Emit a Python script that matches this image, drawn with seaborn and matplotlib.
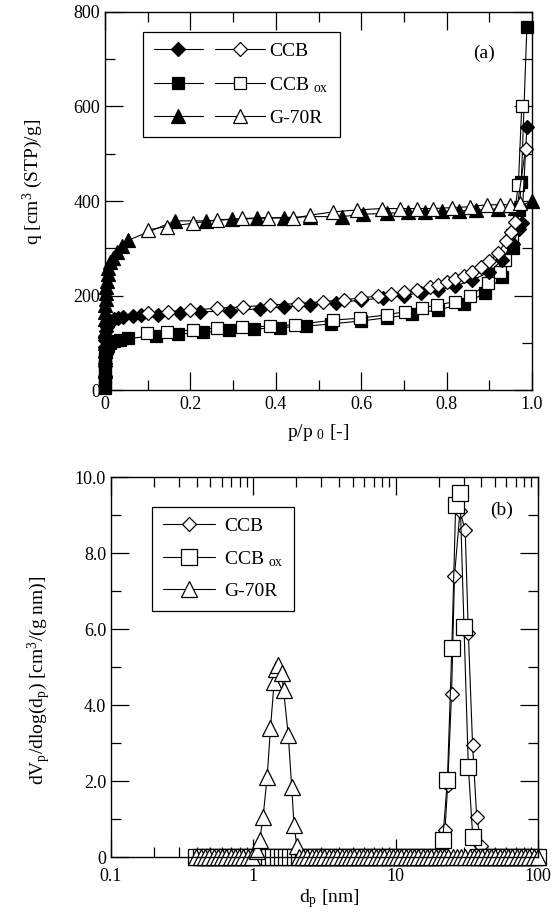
import matplotlib
matplotlib.use("Agg")
import matplotlib.pyplot as plt
import seaborn as sns
import pandas as pd
from matplotlib.lines import Line2D
from matplotlib.legend_handler import HandlerTuple
from matplotlib.ticker import MultipleLocator, FuncFormatter, LogLocator, NullFormatter

# ---------------- (a) isotherms: adsorption (filled) / desorption (open) ----------------
CCB_ADS_P = [0.00002, 0.00005, 0.0001, 0.0003, 0.0006, 0.001, 0.002, 0.004, 0.007, 0.012,
             0.02, 0.03, 0.043, 0.066, 0.085, 0.125, 0.176, 0.222, 0.293, 0.363, 0.42, 0.48,
             0.54, 0.6, 0.65, 0.7, 0.74, 0.78, 0.82, 0.86, 0.9, 0.93, 0.955, 0.97, 0.976, 0.988]
CCB_ADS_Q = [30, 50, 70, 90, 105, 115, 125, 133, 140, 145, 150, 152, 155, 156, 158, 159, 162,
             165, 168, 172, 176, 180, 185, 190, 195, 200, 206, 212, 220, 232, 250, 275, 310,
             340, 353, 557]
CCB_DES_P = [0.101, 0.148, 0.2, 0.262, 0.324, 0.386, 0.453, 0.51, 0.56, 0.6, 0.64, 0.67, 0.7,
             0.73, 0.76, 0.78, 0.8, 0.82, 0.84, 0.86, 0.88, 0.9, 0.92, 0.94, 0.95, 0.96, 0.985]
CCB_DES_Q = [162, 166, 169, 173, 176, 180, 183, 187, 191, 195, 199, 203, 207, 212, 217, 222,
             228, 235, 242, 250, 260, 272, 290, 315, 335, 355, 510]

CCBOX_ADS_P = [0.00001, 0.00003, 0.00006, 0.0001, 0.0003, 0.0006, 0.001, 0.002, 0.004, 0.007,
               0.012, 0.02, 0.035, 0.055, 0.12, 0.17, 0.23, 0.29, 0.35, 0.41, 0.47, 0.53, 0.6,
               0.66, 0.72, 0.78, 0.84, 0.89, 0.93, 0.955, 0.97, 0.975, 0.988]
CCBOX_ADS_Q = [5, 15, 28, 40, 55, 65, 72, 80, 88, 94, 99, 103, 106, 109, 115, 118, 122, 126,
               129, 132, 135, 140, 146, 153, 160, 170, 182, 205, 240, 300, 380, 441, 769]
CCBOX_DES_P = [0.098, 0.146, 0.207, 0.262, 0.322, 0.386, 0.445, 0.535, 0.597, 0.66, 0.703,
               0.742, 0.777, 0.82, 0.855, 0.898, 0.925, 0.937, 0.952, 0.968, 0.976]
CCBOX_DES_Q = [120, 123, 127, 131, 133, 135, 138, 148, 152, 159, 166, 173, 180, 187, 199, 226,
               250, 275, 328, 434, 600]

G70R_ADS_P = [0.00002, 0.00005, 0.0001, 0.0002, 0.0004, 0.0007, 0.001, 0.0015, 0.002, 0.003,
              0.004, 0.006, 0.008, 0.012, 0.018, 0.027, 0.04, 0.055, 0.164, 0.237, 0.297,
              0.355, 0.42, 0.48, 0.555, 0.605, 0.66, 0.71, 0.75, 0.79, 0.83, 0.87, 0.92, 0.96,
              0.999]
G70R_ADS_Q = [40, 70, 100, 125, 150, 165, 180, 193, 205, 218, 230, 245, 258, 270, 280, 293, 305,
              317, 358, 358, 361, 363, 365, 367, 367, 372, 374, 376, 377, 378, 379, 381, 383,
              386, 399]
G70R_DES_P = [0.101, 0.146, 0.207, 0.263, 0.322, 0.382, 0.441, 0.48, 0.535, 0.589, 0.648,
              0.691, 0.73, 0.769, 0.812, 0.855, 0.894, 0.925, 0.949, 0.972]
G70R_DES_Q = [339, 346, 353, 360, 363, 365, 363, 370, 377, 381, 384, 384, 384, 384, 386, 388,
              392, 392, 392, 395]

# ---------------- (b) pore size distributions ----------------
D_GRID = [0.398, 0.427, 0.457, 0.490, 0.525, 0.562, 0.603, 0.646, 0.692, 0.741, 0.794, 0.851,
          0.912, 0.977, 1.047, 1.122, 1.202, 1.288, 1.380, 1.479, 1.585, 1.698, 1.820, 1.950,
          2.089, 2.239, 2.399, 2.570, 2.754, 2.951, 3.162, 3.388, 3.631, 3.890, 4.169, 4.467,
          4.786, 5.129, 5.495, 5.888, 6.310, 6.761, 7.244, 7.762, 8.318, 8.913, 9.550, 10.23,
          10.96, 11.75, 12.59, 13.49, 14.45, 15.49, 16.60, 17.78, 19.05, 20.42, 21.88, 23.44,
          25.12, 26.92, 28.84, 30.90, 33.11, 35.48, 38.02, 40.74, 43.65, 46.77, 50.12, 53.70,
          57.54, 61.66, 66.07, 70.79, 75.86, 81.28, 87.10, 93.33, 100.0]

CCB_PEAK_D = [21.0, 22.2, 23.2, 24.7, 25.9, 28.3, 30.8, 32.4, 34.7, 37.1, 40.0]
CCB_PEAK_V = [0.1, 0.7, 1.9, 4.3, 7.4, 9.1, 8.6, 5.9, 2.95, 1.06, 0.3]
CCBOX_PEAK_D = [21.4, 23.1, 24.8, 26.4, 28.3, 30.2, 32.4, 34.8]
CCBOX_PEAK_V = [0.45, 2.03, 5.49, 9.26, 9.57, 6.06, 2.38, 0.53]
G70R_PEAK_D = [1.06, 1.11, 1.17, 1.25, 1.32, 1.40, 1.45, 1.50, 1.58, 1.63, 1.76, 1.86, 1.93, 2.02]
G70R_PEAK_V = [0.15, 0.45, 1.05, 2.1, 3.4, 4.6, 4.95, 5.05, 4.85, 4.4, 3.2, 1.85, 0.85, 0.3]

LABELS = ["CCB", r"CCB $_{\rm ox}$", "G-70R"]


def psd_frame(peak_d, peak_v):
    lo, hi = min(peak_d), max(peak_d)
    d = [g for g in D_GRID if g < lo * 0.97 or g > hi * 1.03]
    v = [0.0] * len(d)
    df = pd.DataFrame({"d": d + peak_d, "v": v + peak_v})
    return df.sort_values("d")


sns.set_theme(style="ticks")
plt.rcParams.update({
    "font.family": ["Liberation Serif", "DejaVu Serif"],
    "mathtext.fontset": "custom",
    "mathtext.rm": "Liberation Serif",
    "mathtext.it": "Liberation Serif:italic",
    "mathtext.bf": "Liberation Serif:bold",
    "axes.edgecolor": "black",
    "axes.linewidth": 1.0,
    "xtick.direction": "in",
    "ytick.direction": "in",
    "xtick.top": True,
    "ytick.right": True,
    "xtick.major.size": 13,
    "ytick.major.size": 13,
    "xtick.minor.size": 7,
    "ytick.minor.size": 7,
    "xtick.major.width": 0.9,
    "ytick.major.width": 0.9,
    "xtick.minor.width": 0.9,
    "ytick.minor.width": 0.9,
    "xtick.color": "black",
    "ytick.color": "black",
    "xtick.labelsize": 13,
    "ytick.labelsize": 13,
    "text.color": "black",
    "axes.labelcolor": "black",
})

fig = plt.figure(figsize=(5.57, 9.22), dpi=100)
ax1 = fig.add_axes([105 / 557, 1 - 390 / 922, 427 / 557, 378 / 922])
ax2 = fig.add_axes([111 / 557, 1 - 857 / 922, 427 / 557, 380 / 922])

LW = 0.8
MS_TOP = {"D": 7.0, "s": 8.8, "^": 10.5}


def draw(ax, x, y, marker, ms, filled):
    sns.lineplot(x=x, y=y, ax=ax, color="black", lw=LW, marker=marker, markersize=ms,
                 markerfacecolor="black" if filled else "white", markeredgecolor="black",
                 markeredgewidth=0.9, sort=True, estimator=None, clip_on=False)


# ---- panel (a)
draw(ax1, CCBOX_ADS_P, CCBOX_ADS_Q, "s", MS_TOP["s"], True)
draw(ax1, CCBOX_DES_P, CCBOX_DES_Q, "s", MS_TOP["s"], False)
draw(ax1, CCB_ADS_P, CCB_ADS_Q, "D", MS_TOP["D"], True)
draw(ax1, CCB_DES_P, CCB_DES_Q, "D", MS_TOP["D"], False)
draw(ax1, G70R_ADS_P, G70R_ADS_Q, "^", MS_TOP["^"], True)
draw(ax1, G70R_DES_P, G70R_DES_Q, "^", MS_TOP["^"], False)

ax1.set_xlim(0, 1.0)
ax1.set_ylim(0, 800)
ax1.xaxis.set_major_locator(MultipleLocator(0.2))
ax1.xaxis.set_minor_locator(MultipleLocator(0.1))
ax1.yaxis.set_major_locator(MultipleLocator(200))
ax1.yaxis.set_minor_locator(MultipleLocator(100))
ax1.xaxis.set_major_formatter(FuncFormatter(lambda v, p: "0" if abs(v) < 1e-9 else f"{v:.1f}"))
ax1.yaxis.set_major_formatter(FuncFormatter(lambda v, p: f"{v:.0f}"))
ax1.tick_params(axis="x", which="major", pad=4)
ax1.set_xlabel(r"p/p $_{\rm 0}$ [-]", fontsize=14)
ax1.set_ylabel(r"q [cm$^{3}$ (STP)/g]", fontsize=14)
ax1.xaxis.set_label_coords(0.5, -0.085)
ax1.yaxis.set_label_coords(-0.14, 0.55)
ax1.text(0.888, 713, "(a)", ha="center", va="center", fontsize=14)


def pair(marker, ms):
    a = Line2D([], [], color="black", lw=LW, marker=marker, markersize=ms,
               markerfacecolor="black", markeredgecolor="black", markeredgewidth=0.9)
    b = Line2D([], [], color="black", lw=LW, marker=marker, markersize=ms,
               markerfacecolor="white", markeredgecolor="black", markeredgewidth=0.9)
    return (a, b)


leg1 = ax1.legend([pair("D", MS_TOP["D"]), pair("s", MS_TOP["s"]), pair("^", MS_TOP["^"])],
                  LABELS, handler_map={tuple: HandlerTuple(ndivide=None, pad=0.6)},
                  loc="upper left", bbox_to_anchor=(143 / 557, 1 - 32 / 922),
                  bbox_transform=fig.transFigure, frameon=True, fancybox=False,
                  edgecolor="black", framealpha=1, fontsize=14, handlelength=5.7,
                  handletextpad=0.25, borderpad=0.55, labelspacing=0.75, borderaxespad=0)
leg1.get_frame().set_linewidth(0.9)

# ---- panel (b)
MS_B = {"D": 7.0, "s": 11.0, "^": 11.0}
df_ccb = psd_frame(CCB_PEAK_D, CCB_PEAK_V)
df_ox = psd_frame(CCBOX_PEAK_D, CCBOX_PEAK_V)
df_g = psd_frame(G70R_PEAK_D, G70R_PEAK_V)
draw(ax2, df_ccb["d"], df_ccb["v"], "D", MS_B["D"], False)
draw(ax2, df_ox["d"], df_ox["v"], "s", MS_B["s"], False)
draw(ax2, df_g["d"], df_g["v"], "^", MS_B["^"], False)

ax2.set_xscale("log")
ax2.set_xlim(0.1, 100)
ax2.set_ylim(0, 10)
ax2.yaxis.set_major_locator(MultipleLocator(2))
ax2.yaxis.set_minor_locator(MultipleLocator(1))
ax2.yaxis.set_major_formatter(FuncFormatter(lambda v, p: "0" if abs(v) < 1e-9 else f"{v:.1f}"))
ax2.xaxis.set_major_locator(LogLocator(base=10, numticks=10))
ax2.xaxis.set_minor_locator(LogLocator(base=10, subs=(2, 3, 4, 5, 6, 7, 8, 9), numticks=20))
ax2.xaxis.set_minor_formatter(NullFormatter())
ax2.xaxis.set_major_formatter(FuncFormatter(lambda v, p: f"{v:g}"))
ax2.tick_params(axis="x", which="major", pad=8)
ax2.set_xlabel(r"d$_{\rm p}$ [nm]", fontsize=14)
ax2.set_ylabel(r"dV$_{\rm p}$/dlog(d$_{\rm p}$) [cm$^{3}$/(g nm)]", fontsize=14)
ax2.xaxis.set_label_coords(0.51, -0.08)
ax2.yaxis.set_label_coords(-0.135, 0.465)
ax2.text(55.7, 9.13, "(b)", ha="center", va="center", fontsize=14)


def single(marker, ms):
    return Line2D([], [], color="black", lw=LW, marker=marker, markersize=ms,
                  markerfacecolor="white", markeredgecolor="black", markeredgewidth=0.9)


leg2 = ax2.legend([single("D", MS_B["D"]), single("s", MS_B["s"]), single("^", MS_B["^"])],
                  LABELS, loc="upper left", bbox_to_anchor=(152 / 557, 1 - 507 / 922),
                  bbox_transform=fig.transFigure, frameon=True, fancybox=False,
                  edgecolor="black", framealpha=1, fontsize=14, handlelength=2.7,
                  handletextpad=0.45, borderpad=0.55, labelspacing=0.7, borderaxespad=0)
leg2.get_frame().set_linewidth(0.9)

fig.savefig("out.png", dpi=100, facecolor="white")
